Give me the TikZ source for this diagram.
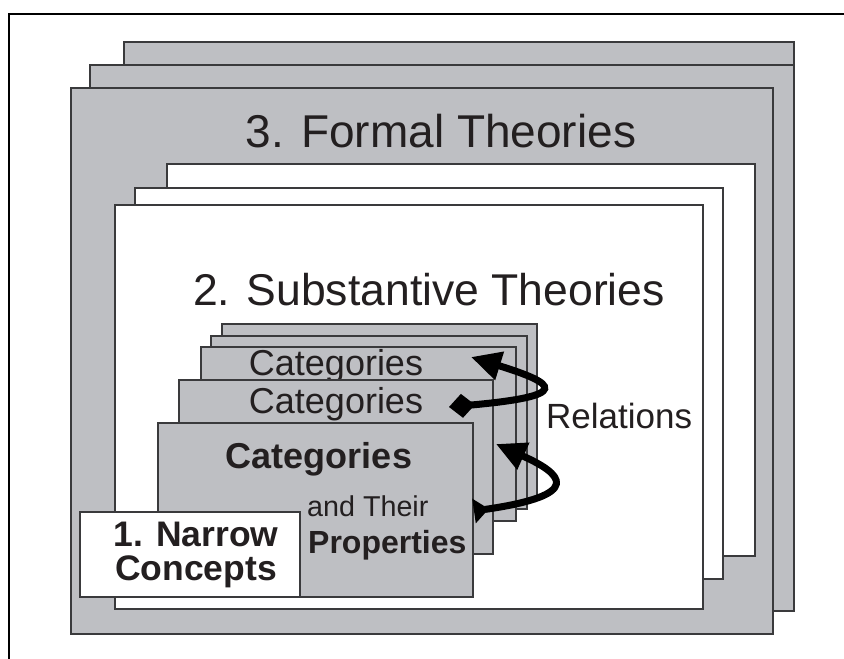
\documentclass[tikz,border=0pt]{standalone}
\usepackage{fontspec}
\setmainfont{Liberation Sans}
\usetikzlibrary{arrows.meta}
\definecolor{boardgray}{RGB}{190,191,195}
\definecolor{edgegray}{RGB}{58,58,60}
\definecolor{inkc}{RGB}{35,31,32}
\tikzset{
  gboard/.style={fill=boardgray, draw=edgegray, line width=1.3pt},
  wboard/.style={fill=white, draw=edgegray, line width=1.3pt},
  lbl/.style={text=inkc, inner sep=0pt},
  relarrow/.style={line width=7pt, draw=black},
}
\newcommand{\fs}[1]{\fontsize{#1}{#1}\selectfont}
\begin{document}
\begin{tikzpicture}[x=1pt,y=-1pt]
\useasboundingbox (0,0) rectangle (844,659);
\begin{scope}
  \clip (0,0) rectangle (844,659);
  \draw[line width=2pt, black] (9,720) -- (9,14) -- (900,14);
\end{scope}
% 3. formal theories stack
\draw[gboard] (124,42) rectangle (794,611);
\draw[gboard] (90,65) rectangle (794,611);
\draw[gboard] (71,88) rectangle (773,634);
\node[lbl, anchor=base] (formal) at (441,147) {\fs{46}3. Formal Theories};
% 2. substantive theories stack
\draw[wboard] (167,164) rectangle (755,556);
\draw[wboard] (135,188) rectangle (723,579);
\draw[wboard] (115,205) rectangle (703,609);
\node[lbl, anchor=base] (subst) at (429,305) {\fs{44.5}2. Substantive Theories};
% categories stack
\draw[gboard] (222,324) rectangle (537,498);
\draw[gboard] (211,336) rectangle (527,509);
\draw[gboard] (201,347) rectangle (516,521);
\node[lbl, anchor=base] (cat3) at (336,375) {\fs{36}Categories};
\draw[gboard] (179,380) rectangle (493,554);
\node[lbl, anchor=base] (cat4) at (336,413) {\fs{36}Categories};
\draw[gboard] (158,423) rectangle (473,597);
\node[lbl, anchor=base] (cat5) at (319,468) {\fs{36}\bfseries Categories};
\node[lbl, anchor=base west] (their) at (307,516) {\fs{28.7}and Their};
\node[lbl, anchor=base west] (props) at (308,553) {\fs{32}\bfseries Properties};
% 1. narrow concepts
\draw[wboard] (80,512) rectangle (300,597);
\node[lbl, anchor=base] (narrow1) at (196,546) {\fs{35.5}\bfseries 1. Narrow};
\node[lbl, anchor=base] (narrow2) at (196,580) {\fs{35.5}\bfseries Concepts};
% relations
\node[lbl, anchor=base west] (rel) at (546,428) {\fs{35}Relations};
\coordinate (u0) at (449,407);
\coordinate (u1) at (471,357);
\draw[relarrow, {Diamond[length=26pt,width=24pt]}-{Triangle[length=30pt,width=28pt]}]
  (u0) .. controls (572,396) and (558,384) .. (u1);
\coordinate (l0) at (474,511);
\coordinate (l1) at (496,444);
\draw[relarrow, {Triangle[reversed,length=15pt,width=24pt]}-{Triangle[length=30pt,width=28pt]}]
  (l0) .. controls (585,495) and (563,474) .. (l1);
\end{tikzpicture}
\end{document}
